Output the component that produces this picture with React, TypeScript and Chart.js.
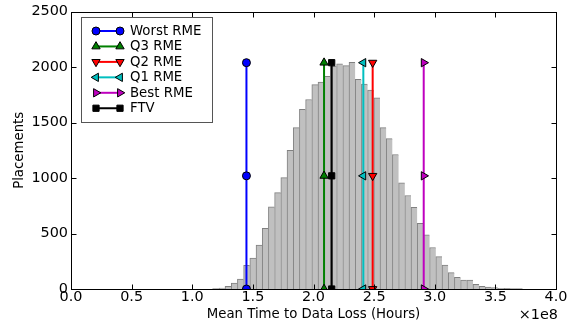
import React, { useEffect, useRef } from 'react';
import { Chart, registerables } from 'chart.js';
import { drawPoint } from 'chart.js/helpers';

Chart.register(...registerables);

// Histogram: 50 equal-width bins
const binStart = 1.168e8;
const binWidth = 0.05113e8;
const counts = [
  3, 9, 24, 54, 90, 213, 279, 396, 546, 740,
  868, 1004, 1250, 1454, 1620, 1708, 1842, 1866, 1916, 2010,
  2030, 2014, 2042, 1890, 1846, 1792, 1724, 1454, 1355, 1212,
  956, 843, 736, 591, 488, 374, 292, 216, 147, 105,
  81, 81, 42, 24, 18, 12, 6, 5, 4, 3,
];

// Reference lines
const seriesNames = ['Worst RME', 'Q3 RME', 'Q2 RME', 'Q1 RME', 'Best RME', 'FTV'];
const seriesX = [1.447e8, 2.087e8, 2.488e8, 2.411e8, 2.909e8, 2.15e8];
const seriesColors = ['#0000ff', '#008000', '#ff0000', '#00bfbf', '#bf00bf', '#000000'];
const markerStyles = ['circle', 'triangle', 'triangle', 'triangle', 'triangle', 'rect'];
const markerRotations = [0, 0, 180, 270, 90, 0];
const markerRadii = [4, 4.8, 4.8, 4.8, 4.8, 4.4];
const markerLevels = [0, 1020, 2040];

const xTicks = [0, 0.5e8, 1e8, 1.5e8, 2e8, 2.5e8, 3e8, 3.5e8, 4e8];
const xTickLabels = ['0.0', '0.5', '1.0', '1.5', '2.0', '2.5', '3.0', '3.5', '4.0'];
const yTicks = [0, 500, 1000, 1500, 2000, 2500];
const yTickLabels = ['0', '500', '1000', '1500', '2000', '2500'];

const xTitle = 'Mean Time to Data Loss (Hours)';
const yTitle = 'Placements';
const offsetText = '\u00d71e8';

const FONT = '"DejaVu Sans", sans-serif';

const decorPlugin = {
  id: 'decor',
  afterDraw(chart: any) {
    const { ctx, chartArea: a, scales } = chart;
    const L = Math.round(a.left) + 0.5;
    const R = Math.round(a.right) + 0.5;
    const T = Math.round(a.top) + 0.5;
    const B = Math.round(a.bottom) + 0.5;
    ctx.save();
    ctx.strokeStyle = '#000';
    ctx.lineWidth = 1;
    ctx.beginPath();
    xTicks.forEach((v) => {
      const px = Math.round(scales.x.getPixelForValue(v)) + 0.5;
      ctx.moveTo(px, B);
      ctx.lineTo(px, B - 5);
      ctx.moveTo(px, T);
      ctx.lineTo(px, T + 5);
    });
    yTicks.forEach((v) => {
      const py = Math.round(scales.y.getPixelForValue(v)) + 0.5;
      ctx.moveTo(L, py);
      ctx.lineTo(L + 5, py);
      ctx.moveTo(R, py);
      ctx.lineTo(R - 5, py);
    });
    ctx.stroke();
    ctx.strokeRect(L, T, R - L, B - T);

    // Legend
    const lx = 81.5, ly = 17.5, lw = 131, lh = 105;
    ctx.fillStyle = '#fff';
    ctx.fillRect(lx, ly, lw, lh);
    ctx.strokeStyle = '#555';
    ctx.lineWidth = 1;
    ctx.strokeRect(lx, ly, lw, lh);
    ctx.font = `13.3px ${FONT}`;
    ctx.textBaseline = 'middle';
    ctx.textAlign = 'left';
    seriesNames.forEach((name, i) => {
      const y = 31 + i * 15.45;
      ctx.strokeStyle = seriesColors[i];
      ctx.lineWidth = 2;
      ctx.beginPath();
      ctx.moveTo(96, y);
      ctx.lineTo(120, y);
      ctx.stroke();
      [96, 120].forEach((mx) => {
        ctx.fillStyle = seriesColors[i];
        ctx.strokeStyle = '#000';
        ctx.lineWidth = 1;
        drawPoint(ctx, {
          pointStyle: markerStyles[i],
          rotation: markerRotations[i],
          radius: markerRadii[i],
          borderWidth: 1,
        } as any, mx, y);
      });
      ctx.fillStyle = '#000';
      ctx.fillText(name, 130, y + 0.5);
    });

    // Axis titles
    ctx.fillStyle = '#000';
    ctx.font = `13.3px ${FONT}`;
    ctx.textAlign = 'center';
    ctx.textBaseline = 'middle';
    ctx.fillText(xTitle, (a.left + a.right) / 2, 315);
    ctx.save();
    ctx.translate(20, (a.top + a.bottom) / 2);
    ctx.rotate(-Math.PI / 2);
    ctx.fillText(yTitle, 0, 0);
    ctx.restore();
    ctx.font = `14.4px ${FONT}`;
    ctx.textAlign = 'right';
    ctx.fillText(offsetText, 558, 315);
    ctx.restore();
  },
};

export default function App() {
  const ref = useRef<HTMLCanvasElement | null>(null);
  useEffect(() => {
    if (!ref.current) return;
    const lineDatasets = seriesNames.map((name, i) => ({
      type: 'line' as const,
      label: name,
      data: markerLevels.map((y) => ({ x: seriesX[i], y })),
      borderColor: seriesColors[i],
      backgroundColor: seriesColors[i],
      borderWidth: 2,
      pointStyle: markerStyles[i],
      pointRotation: markerRotations[i],
      pointRadius: markerRadii[i],
      pointBackgroundColor: seriesColors[i],
      pointBorderColor: '#000',
      pointBorderWidth: 1,
      fill: false,
      order: 5 - i,
    }));
    const chart = new Chart(ref.current, {
      type: 'bar',
      data: {
        datasets: [
          {
            type: 'bar' as const,
            label: 'hist',
            data: counts.map((c, i) => ({ x: binStart + (i + 0.5) * binWidth, y: c })),
            backgroundColor: '#c0c0c0',
            borderColor: '#808080',
            borderWidth: { top: 1, left: 1, right: 0, bottom: 0 },
            borderSkipped: false,
            barPercentage: 1,
            categoryPercentage: 1,
            order: 10,
          } as any,
          ...lineDatasets,
        ],
      },
      options: {
        responsive: false,
        animation: false,
        devicePixelRatio: 1,
        layout: { padding: { top: 11, right: 17, left: 0, bottom: 0 } },
        plugins: { legend: { display: false }, tooltip: { enabled: false }, title: { display: false } },
        scales: {
          x: {
            type: 'linear',
            min: 0,
            max: 4e8,
            offset: false,
            afterBuildTicks: (s: any) => { s.ticks = xTicks.map((v) => ({ value: v })); },
            ticks: {
              callback: (v: any) => xTickLabels[xTicks.indexOf(Number(v))] ?? '',
              font: { family: FONT, size: 14.4 },
              color: '#000',
              padding: 0,
              maxRotation: 0,
              autoSkip: false,
            },
            grid: { display: false, drawTicks: false, offset: false },
            border: { display: false },
            afterFit: (s: any) => { s.height = 39; },
          },
          y: {
            type: 'linear',
            min: 0,
            max: 2500,
            afterBuildTicks: (s: any) => { s.ticks = yTicks.map((v) => ({ value: v })); },
            ticks: {
              callback: (v: any) => yTickLabels[yTicks.indexOf(Number(v))] ?? '',
              font: { family: FONT, size: 14.4 },
              color: '#000',
              padding: 3,
              autoSkip: false,
            },
            grid: { display: false, drawTicks: false },
            border: { display: false },
            afterFit: (s: any) => { s.width = 71; },
          },
        },
      } as any,
      plugins: [decorPlugin],
    });
    return () => chart.destroy();
  }, []);
  return (
    <div style={{ position: 'fixed', left: 0, top: 0, width: 573, height: 328, background: '#fff' }}>
      <canvas ref={ref} width={573} height={328} style={{ width: 573, height: 328 }} />
    </div>
  );
}
